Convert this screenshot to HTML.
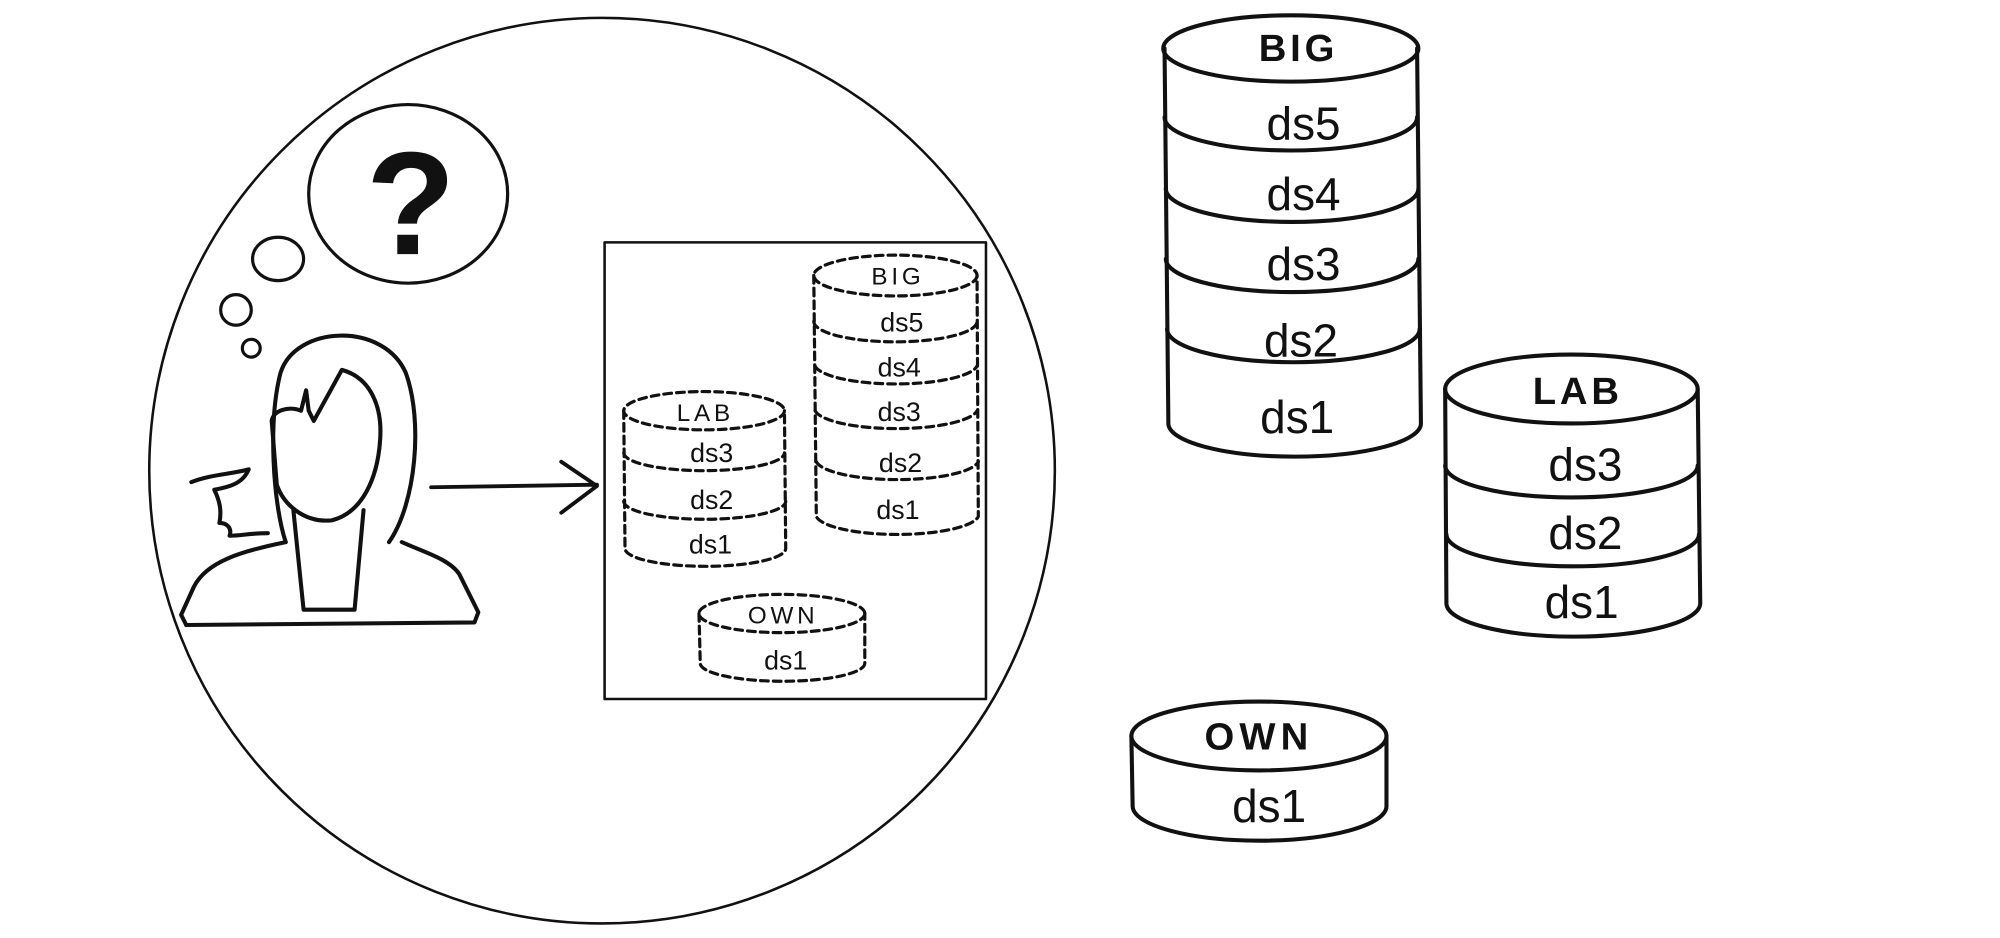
<!DOCTYPE html>
<html><head><meta charset="utf-8"><style>
html,body{margin:0;padding:0;background:#fff;}
svg{display:block}
text{font-family:"Liberation Sans",sans-serif;text-anchor:middle;dominant-baseline:central;fill:#111}
.b{font-weight:bold}
</style></head><body>
<svg width="2000" height="938" viewBox="0 0 1568 735.4" xmlns="http://www.w3.org/2000/svg">
<g fill="none" stroke="#111" stroke-linecap="round" stroke-linejoin="round">
<!-- big circle -->
<ellipse cx="472" cy="369" rx="355" ry="355" stroke-width="2"/>
<!-- thought bubbles -->
<ellipse cx="320" cy="152" rx="78" ry="70" stroke-width="2.5"/>
<ellipse cx="218" cy="203" rx="20" ry="17" stroke-width="2.5"/>
<ellipse cx="185" cy="243" rx="12" ry="12" stroke-width="2.5"/>
<ellipse cx="197" cy="273" rx="7" ry="7" stroke-width="2.5"/>
<!-- person -->
<g stroke-width="3.2">
<path d="M224,425 C214,395 210,330 220,292 C232,255 300,252 318,292 C332,330 326,395 305,425"/>
<path d="M213,330 C214,322 226,318 236,322 L240,306 L242,322 L246,330 L268,290 C290,296 300,318 298,345 C296,375 284,402 260,408 C238,410 222,395 217,380 Z"/>
<path d="M230,400 L238,478 L278,478 L285,400"/>
<path d="M146,490 L372,488 L375,480 L360,450 C352,438 330,432 315,425"/>
<path d="M146,490 L142,482 L152,460 C162,440 190,432 224,425"/>
<path d="M150,378 C165,372 180,372 195,368 C190,380 178,382 168,384 C172,392 174,400 172,410 C178,410 182,414 180,420 C190,420 195,418 210,418"/>
</g>
<!-- arrow -->
<path d="M338,382 L468,380 M440,362 L468,381 L440,402" stroke-width="3"/>
<!-- box -->
<rect x="474" y="190" width="299" height="358" stroke-width="2"/>
<!-- inner dashed cylinders -->
<g stroke-width="2.5" stroke-dasharray="6,4">
<!-- BIG -->
<ellipse cx="702" cy="216" rx="64" ry="16"/>
<path d="M638,216 L640,405 A64,16 0 0 0 767,405 L766,216"/>
<path d="M638,252 A64,16 0 0 0 766,252 M639,287 A64,16 0 0 0 766,287 M639,322 A64,16 0 0 0 766,322 M640,362 A64,16 0 0 0 767,362"/>
<!-- LAB -->
<ellipse cx="552" cy="322" rx="63" ry="15"/>
<path d="M489,322 L490,430 A63,14 0 0 0 616,430 L615,322"/>
<path d="M489,355 A63,14 0 0 0 615,355 M489,393 A63,14 0 0 0 616,393"/>
<!-- OWN -->
<ellipse cx="613" cy="481" rx="65" ry="15"/>
<path d="M548,481 L549,520 A64,14 0 0 0 678,520 L678,481"/>
</g>
<!-- right cylinders -->
<g stroke-width="3.2">
<ellipse cx="1012" cy="38" rx="100" ry="26"/>
<path d="M913,38 L916,332 A99,26 0 0 0 1114,332 L1111,38"/>
<path d="M913,92 A99,26 0 0 0 1111,92 M914,148 A99,26 0 0 0 1112,148 M914,203 A99,26 0 0 0 1112,203 M915,258 A99,26 0 0 0 1113,258"/>
<ellipse cx="1232" cy="305" rx="99" ry="27"/>
<path d="M1133,305 L1134,473 A99,26 0 0 0 1333,473 L1331,305"/>
<path d="M1133,365 A99,25 0 0 0 1331,365 M1134,419 A99,25 0 0 0 1332,419"/>
<ellipse cx="987" cy="577" rx="100" ry="27"/>
<path d="M887,577 L888,632 A99,27 0 0 0 1087,632 L1087,577"/>
</g>
</g>
<!-- question mark -->
<text x="322" y="160" class="b" style="font-size:115px">?</text>
<!-- inner labels -->
<g style="font-size:21px">
<text x="704" y="217" style="font-size:19px;letter-spacing:3px">BIG</text>
<text x="707" y="253">ds5</text><text x="705" y="288">ds4</text><text x="705" y="323">ds3</text><text x="706" y="363">ds2</text><text x="704" y="400">ds1</text>
<text x="553" y="324" style="font-size:19px;letter-spacing:3px">LAB</text>
<text x="558" y="355">ds3</text><text x="558" y="392">ds2</text><text x="557" y="427">ds1</text>
<text x="614" y="483" style="font-size:19px;letter-spacing:3px">OWN</text>
<text x="616" y="518">ds1</text>
</g>
<g style="font-size:36px">
<text x="1018" y="38" class="b" style="font-size:30px;letter-spacing:3px">BIG</text>
<text x="1022" y="97">ds5</text><text x="1022" y="152">ds4</text><text x="1022" y="207">ds3</text><text x="1020" y="267">ds2</text><text x="1017" y="327">ds1</text>
<text x="1237" y="307" class="b" style="font-size:30px;letter-spacing:3px">LAB</text>
<text x="1243" y="364">ds3</text><text x="1243" y="418">ds2</text><text x="1240" y="472">ds1</text>
<text x="987" y="578" class="b" style="font-size:30px;letter-spacing:4px">OWN</text>
<text x="995" y="632">ds1</text>
</g>
</svg>
</body></html>
